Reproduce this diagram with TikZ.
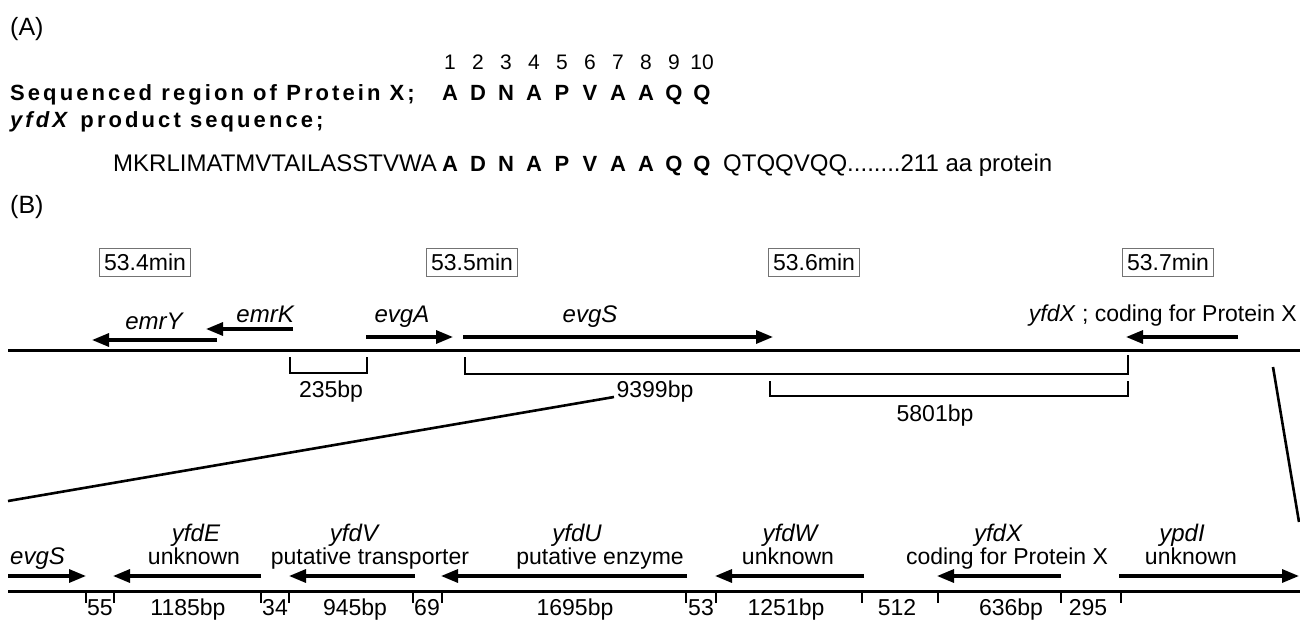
\documentclass[tikz,border=0pt]{standalone}
\usepackage{fontspec}
\setmainfont{Liberation Sans}
\newfontfamily\trk[LetterSpace=14]{Liberation Sans}
\usetikzlibrary{arrows.meta}
\tikzset{
  lbl/.style={font=\fontsize{23}{25}\selectfont, inner sep=0pt},
  gene/.style={font=\fontsize{24}{26}\selectfont\itshape, inner sep=0pt},
  part/.style={font=\fontsize{25}{27}\selectfont, inner sep=0pt, anchor=base west},
  minbox/.style={draw=black!55, line width=0.8pt, font=\fontsize{23}{25}\selectfont, inner sep=1pt, minimum height=28pt, minimum width=91pt},
  chrom/.style={line width=3pt},
  garrow/.style={line width=3.2pt, -{Triangle[length=17pt,width=13pt]}},
  brk/.style={line width=2.6pt},
  tickmark/.style={line width=2.2pt},
  num/.style={font=\fontsize{21}{23}\selectfont, inner sep=0pt, anchor=base},
  seqhead/.style={font=\trk\bfseries\fontsize{22}{24}\selectfont, inner sep=0pt, anchor=base west},
  seqbold/.style={font=\bfseries\fontsize{22}{24}\selectfont, inner sep=0pt, anchor=base},
  seqtext/.style={font=\fontsize{24}{26}\selectfont, inner sep=0pt},
}
\begin{document}
\begin{tikzpicture}[x=1pt,y=-1pt]
\useasboundingbox (0,0) rectangle (1300,620);
% ---------- (A) ----------
\node[part] (pa) at (10,36) {(A)};
\foreach \i in {1,...,10} \node[num] (n\i) at ({450+28*(\i-1)},70) {\i};
\node[seqhead] (seqlbl) at (10,101) {Sequenced region of Protein X;};
\node[seqhead] (prodlbl) at (10,128) {\textit{yfdX} product sequence;};
\foreach \L [count=\i from 0] in {A,D,N,A,P,V,A,A,Q,Q} {
  \node[seqbold] (s\i) at ({450+28*\i},101) {\L};
  \node[seqbold] (m\i) at ({450+28*\i},172) {\L};
}
\node[seqtext, anchor=base east] (mkrl) at (437,172) {MKRLIMATMVTAILASSTVWA};
\node[seqtext, anchor=base west] (tail) at (723,172) {QTQQVQQ........211 aa protein};
% ---------- (B) ----------
\node[part] (pb) at (10,214) {(B)};
\node[minbox] (b1) at (145,262) {53.4min};
\node[minbox] (b2) at (472,262) {53.5min};
\node[minbox] (b3) at (814,262) {53.6min};
\node[minbox] (b4) at (1168,262) {53.7min};
% chromosome
\draw[chrom] (8,350) -- (1300,350);
% genes top
\draw[garrow] (217,340) -- (92,340);
\draw[garrow] (293,329) -- (206,329);
\draw[garrow] (366,337) -- (453,337);
\draw[garrow] (463,337) -- (773,337);
\draw[garrow] (1238,337) -- (1126,337);
\node[gene, anchor=base] (gemrY) at (154,329) {emrY};
\node[gene, anchor=base east] (gemrK) at (294,322) {emrK};
\node[gene, anchor=base] (gevgA) at (402,322) {evgA};
\node[gene, anchor=base] (gevgS) at (590,322) {evgS};
\node[lbl, anchor=base east] (gyfdX) at (1297,321) {\textit{yfdX} ; coding for Protein X};
% brackets
\draw[brk] (290,357) -- (290,373) -- (367,373) -- (367,357);
\node[lbl, anchor=base] (l235) at (331,397) {235bp};
\draw[brk] (465,357) -- (465,374) -- (1128,374) -- (1128,355);
\node[lbl, anchor=base] (l9399) at (655,397) {9399bp};
\draw[brk] (770,381) -- (770,396) -- (1128,396) -- (1128,381);
\node[lbl, anchor=base] (l5801) at (935,421) {5801bp};
% zoom lines
\draw[line width=2.6pt] (614,397) -- (8,501);
\draw[line width=2.6pt] (1273,367) -- (1299,522);
% ---------- expanded region ----------
\draw[chrom] (8,591) -- (1300,591);
\draw[garrow] (8,576) -- (86,576);
\draw[garrow] (261,576) -- (113,576);
\draw[garrow] (415,576) -- (289,576);
\draw[garrow] (687,576) -- (441,576);
\draw[garrow] (864,576) -- (715,576);
\draw[garrow] (1061,576) -- (937,576);
\draw[garrow] (1119,576) -- (1299,576);
\foreach \t in {86,114,261,289,413,442,686,716,862,938,1061,1121}
  \draw[tickmark] (\t,590) -- (\t,603);
\node[gene, anchor=base west] (bevgS) at (10,564) {evgS};
\node[gene, anchor=base] (byfdE) at (196,541) {yfdE};
\node[lbl, anchor=base] (uE) at (194,564) {unknown};
\node[gene, anchor=base] (byfdV) at (354,541) {yfdV};
\node[lbl, anchor=base] (uV) at (370,564) {putative transporter};
\node[gene, anchor=base] (byfdU) at (577,541) {yfdU};
\node[lbl, anchor=base east] (uU) at (684,564) {putative enzyme};
\node[gene, anchor=base] (byfdW) at (790,541) {yfdW};
\node[lbl, anchor=base] (uW) at (788,564) {unknown};
\node[gene, anchor=base] (byfdX) at (998,541) {yfdX};
\node[lbl, anchor=base] (uX) at (1007,564) {coding for Protein X};
\node[gene, anchor=base] (bypdI) at (1182,541) {ypdI};
\node[lbl, anchor=base] (uI) at (1191,564) {unknown};
\node[lbl, anchor=base] (d55) at (100,615) {55};
\node[lbl, anchor=base] (d1185) at (188,615) {1185bp};
\node[lbl, anchor=base] (d34) at (275,615) {34};
\node[lbl, anchor=base] (d945) at (355,615) {945bp};
\node[lbl, anchor=base] (d69) at (427,615) {69};
\node[lbl, anchor=base] (d1695) at (575,615) {1695bp};
\node[lbl, anchor=base] (d53) at (701,615) {53};
\node[lbl, anchor=base] (d1251) at (786,615) {1251bp};
\node[lbl, anchor=base] (d512) at (897,615) {512};
\node[lbl, anchor=base] (d636) at (1011,615) {636bp};
\node[lbl, anchor=base] (d295) at (1088,615) {295};
\end{tikzpicture}
\end{document}
